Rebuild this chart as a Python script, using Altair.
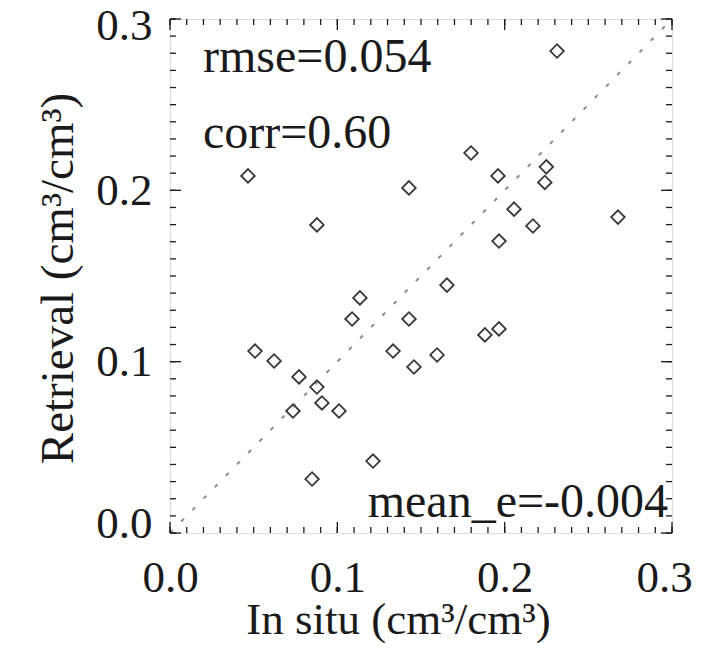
import altair as alt
import pandas as pd

# Scatter data
in_situ = [0.2313, 0.1799, 0.1960, 0.2249, 0.2240, 0.1428, 0.2056, 0.2169, 0.2677, 0.1966,
           0.0466, 0.0878,
           0.1135, 0.1088, 0.1655, 0.1428, 0.0508, 0.0622, 0.1333, 0.1596, 0.1458, 0.0771,
           0.0878, 0.0908, 0.0735, 0.1010, 0.1213, 0.0849,
           0.1882, 0.1966]
retrieval = [0.2813, 0.2218, 0.2084, 0.2137, 0.2046, 0.2014, 0.1890, 0.1792, 0.1844, 0.1704,
             0.2084, 0.1798,
             0.1372, 0.1249, 0.1447, 0.1249, 0.1062, 0.1004, 0.1062, 0.1039, 0.0969, 0.0911,
             0.0852, 0.0759, 0.0712, 0.0712, 0.0420, 0.0315,
             0.1156, 0.1191]

one_to_one = [0.0, 0.3]
major_ticks = [0.0, 0.1, 0.2, 0.3]
minor_ticks = [0.00, 0.01, 0.02, 0.03, 0.04, 0.05, 0.06, 0.07, 0.08, 0.09, 0.10,
               0.11, 0.12, 0.13, 0.14, 0.15, 0.16, 0.17, 0.18, 0.19, 0.20,
               0.21, 0.22, 0.23, 0.24, 0.25, 0.26, 0.27, 0.28, 0.29, 0.30]
stats_labels = ["rmse=0.054", "corr=0.60", "mean_e=-0.004"]

W, H = 502, 514
FONT = "Liberation Serif"
INK = "#1a1a1a"

pts = pd.DataFrame({"x": in_situ, "y": retrieval})
line_df = pd.DataFrame({"x": one_to_one, "y": one_to_one})
minor_df = pd.DataFrame({"v": minor_ticks})
major_df = pd.DataFrame({"v": major_ticks})

xs = alt.Scale(domain=[0, 0.3], nice=False, zero=False)
ys = alt.Scale(domain=[0, 0.3], nice=False, zero=False)

x_axis = alt.Axis(values=major_ticks, format=".1f", grid=False, domain=False, ticks=False,
                  labelFont=FONT, labelFontSize=45, labelColor=INK, labelBaseline="alphabetic",
                  labelPadding=58, labelFlush=False,
                  labelOffset={"condition": {"test": "datum.value > 0.25", "value": -8},
                               "value": 0},
                  title="In situ (cm³/cm³)", titleFont=FONT, titleFontSize=45,
                  titleFontWeight="normal", titleColor=INK, titleX=228, titleY=100,
                  titleBaseline="alphabetic", titleAlign="center")
y_axis = alt.Axis(values=major_ticks, format=".1f", grid=False, domain=False, ticks=False,
                  labelFont=FONT, labelFontSize=45, labelColor=INK, labelPadding=18,
                  labelFlush=False,
                  labelOffset={"condition": [{"test": "datum.value < 0.05", "value": -10},
                                             {"test": "datum.value > 0.25", "value": 6}],
                               "value": 0},
                  title="Retrieval (cm³/cm³)", titleFont=FONT, titleFontSize=47,
                  titleFontWeight="normal", titleColor=INK, titleX=-98, titleY=259,
                  titleBaseline="alphabetic", titleAlign="center", titleAngle=-90)

diag = alt.Chart(line_df).mark_line(color="#8c8c8c", strokeWidth=2, strokeDash=[4, 12]).encode(
    x=alt.X("x:Q", scale=xs, axis=x_axis),
    y=alt.Y("y:Q", scale=ys, axis=y_axis),
)

points = alt.Chart(pts).mark_point(shape="diamond", size=185, filled=False,
                                   color="#383838", strokeWidth=1.8, opacity=1).encode(
    x=alt.X("x:Q", scale=xs),
    y=alt.Y("y:Q", scale=ys),
)

def ticks(df, length):
    base = alt.Chart(df).mark_rule(color=INK, strokeWidth=1.3)
    bottom = base.encode(x=alt.X("v:Q", scale=xs), y=alt.value(H), y2=alt.value(H - length))
    top = base.encode(x=alt.X("v:Q", scale=xs), y=alt.value(0), y2=alt.value(length))
    left = base.encode(y=alt.Y("v:Q", scale=ys), x=alt.value(0), x2=alt.value(length))
    right = base.encode(y=alt.Y("v:Q", scale=ys), x=alt.value(W), x2=alt.value(W - length))
    return [bottom, top, left, right]

txt_df = pd.DataFrame({"t": stats_labels})
rmse = alt.Chart(txt_df.iloc[[0]]).mark_text(font=FONT, fontSize=48, color=INK, align="left",
                                             baseline="alphabetic").encode(
    text="t:N", x=alt.value(33), y=alt.value(53))
corr = alt.Chart(txt_df.iloc[[1]]).mark_text(font=FONT, fontSize=48, color=INK, align="left",
                                             baseline="alphabetic").encode(
    text="t:N", x=alt.value(33), y=alt.value(129))
mean_e = alt.Chart(txt_df.iloc[[2]]).mark_text(font=FONT, fontSize=48, color=INK, align="right",
                                               baseline="alphabetic").encode(
    text="t:N", x=alt.value(498), y=alt.value(498))

layers = [diag, points] + ticks(minor_df, 6) + ticks(major_df, 11) + [rmse, corr, mean_e]

chart = alt.layer(*layers).properties(
    width=W, height=H,
    autosize=alt.AutoSizeParams(type="none"),
    padding={"left": 162, "top": 11, "right": 22, "bottom": 110},
).configure_view(stroke=INK, strokeWidth=1.8).configure(background="white")

chart.save("out.html", embed_options={"renderer": "svg", "actions": False})
